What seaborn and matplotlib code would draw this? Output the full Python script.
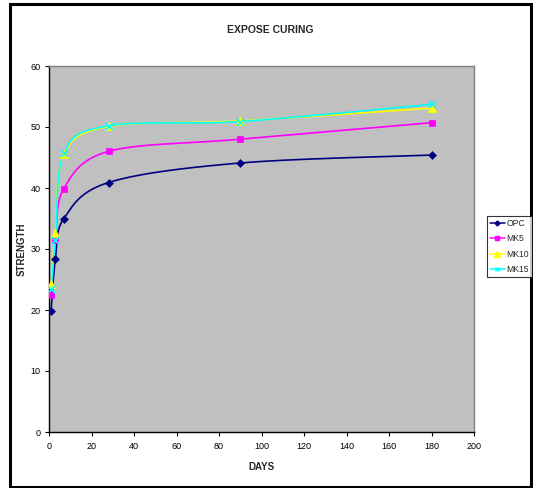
import numpy as np
import pandas as pd
import matplotlib
matplotlib.use("Agg")
import matplotlib.pyplot as plt
from matplotlib.lines import Line2D
from matplotlib.patches import Rectangle
import seaborn as sns

days = [1, 3, 7, 28, 90, 180]
opc = [19.9, 28.4, 35.0, 40.9, 44.1, 45.4]
mk5 = [22.4, 31.5, 39.9, 46.0, 48.0, 50.7]
mk10 = [24.3, 32.7, 45.5, 50.1, 51.0, 53.1]
mk15 = [23.4, 31.4, 45.7, 50.2, 50.9, 53.7]
series_names = ["OPC", "MK5", "MK10", "MK15"]
x_ticks = list(range(0, 201, 20))
y_ticks = list(range(0, 61, 10))

colors = {"OPC": "#000080", "MK5": "#FF00FF", "MK10": "#FFFF00", "MK15": "#00FFFF"}
markers = {"OPC": "D", "MK5": "s", "MK10": "^", "MK15": "x"}
msizes = {"OPC": 4, "MK5": 5, "MK10": 6, "MK15": 5}

sns.set_style("white")
plt.rcParams["font.family"] = ["Liberation Sans", "DejaVu Sans"]

df = pd.DataFrame({
    "day": days * 4,
    "strength": opc + mk5 + mk10 + mk15,
    "series": sum([[n] * len(days) for n in series_names], []),
})

W, H = 533, 488
fig = plt.figure(figsize=(W / 100, H / 100), dpi=100)
x0, x1, y0, y1 = 49, 474, 66, 432
ax = fig.add_axes([x0 / W, (H - y1) / H, (x1 - x0) / W, (y1 - y0) / H])
ax.set_facecolor("#C0C0C0")
ax.set_xlim(0, 200)
ax.set_ylim(0, 60)

sx = (x1 - x0) / 200.0
sy = (y1 - y0) / 60.0


def smooth(xs, ys, n=40):
    # Bezier smoothing in screen space (Excel-like smoothed line)
    P = np.column_stack([np.asarray(xs, float) * sx, np.asarray(ys, float) * sy])
    out = [P[0]]
    for i in range(len(P) - 1):
        p0 = P[i - 1] if i > 0 else P[i]
        p1 = P[i]
        p2 = P[i + 1]
        p3 = P[i + 2] if i + 2 < len(P) else P[i + 1]
        c1 = p1 + (p2 - p0) / 6.0
        c2 = p2 - (p3 - p1) / 6.0
        t = np.linspace(0, 1, n)[1:, None]
        seg = ((1 - t) ** 3) * p1 + 3 * ((1 - t) ** 2) * t * c1 + 3 * (1 - t) * t ** 2 * c2 + t ** 3 * p2
        out.extend(seg)
    out = np.array(out)
    return out[:, 0] / sx, out[:, 1] / sy


for name in series_names:
    sub = df[df.series == name]
    xs, ys = smooth(sub.day.values, sub.strength.values)
    ax.plot(xs, ys, color=colors[name], lw=1.2, zorder=2)

for name in series_names:
    sub = df[df.series == name]
    sns.scatterplot(data=sub, x="day", y="strength", ax=ax, color=colors[name],
                    marker=markers[name], s=msizes[name] ** 2,
                    edgecolor=colors[name] if markers[name] != "x" else None,
                    linewidth=1.2 if markers[name] == "x" else 0.5,
                    legend=False, zorder=3)

ax.set_xticks(x_ticks)
ax.set_yticks(y_ticks)
ax.tick_params(direction="out", length=3, width=0.8, labelsize=6.5,
               bottom=True, left=True, colors="black")
ax.tick_params(axis="x", pad=4.5)
ax.tick_params(axis="y", pad=3)
ax.set_xlabel("DAYS", fontsize=7, fontweight="bold", labelpad=7.5)
ax.set_ylabel("STRENGTH", fontsize=7, fontweight="bold", labelpad=3)
for s in ["left", "bottom"]:
    ax.spines[s].set_color("black")
    ax.spines[s].set_linewidth(1.0)
for s in ["top", "right"]:
    ax.spines[s].set_color("#808080")
    ax.spines[s].set_linewidth(1.0)

fig.text(270 / W, 1 - 30 / H, "EXPOSE CURING", ha="center", va="center",
         fontsize=7.5, fontweight="bold")

handles = [Line2D([0], [0], color=colors[n], marker=markers[n], markersize=msizes[n] - 1.5,
                  lw=1.1, markeredgewidth=1.0) for n in series_names]
leg = fig.legend(handles, series_names, loc="upper left",
                 bbox_to_anchor=(487 / W, 1 - 216 / H), fontsize=6.2,
                 frameon=True, fancybox=False, handlelength=1.7, handletextpad=0.2,
                 borderpad=0.35, labelspacing=0.75, borderaxespad=0)
leg.get_frame().set_edgecolor("black")
leg.get_frame().set_linewidth(0.8)

fig.patches.append(Rectangle((10 / W, 1.5 / H), (531 - 10) / W, (484 - 1.5) / H,
                             transform=fig.transFigure, fill=False, lw=2.2,
                             edgecolor="black"))

fig.savefig("out.png", dpi=100, facecolor="white")
